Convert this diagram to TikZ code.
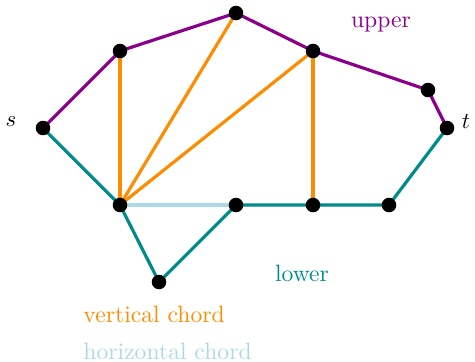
\documentclass[tikz,border=0pt]{standalone}
\usepackage{xcolor}
\definecolor{upc}{RGB}{139,0,139}
\definecolor{loc}{RGB}{0,139,139}
\definecolor{vch}{RGB}{255,140,0}
\definecolor{hch}{RGB}{173,216,230}
\begin{document}
\begin{tikzpicture}[x=0.44pt,y=-0.44pt,
  font=\fontsize{10.4}{12.5}\selectfont,
  vtx/.style={circle,fill=black,inner sep=0pt,minimum size=6.4pt},
  edge/.style={line width=1.4pt},
  upperedge/.style={edge,upc},
  loweredge/.style={edge,loc},
  vchord/.style={edge,vch},
  hchord/.style={edge,hch}]
\useasboundingbox (0,0) rectangle (475,361);
% vertices
\coordinate (s) at (43,128);
\coordinate (a) at (120,51);
\coordinate (b) at (236,13);
\coordinate (c) at (313,51);
\coordinate (d) at (428,90);
\coordinate (t) at (447,128);
\coordinate (e) at (120,205);
\coordinate (f) at (236,205);
\coordinate (g) at (313,205);
\coordinate (h) at (389,205);
\coordinate (i) at (159,282);
% chords
\draw[hchord] (e) -- (f);
\draw[vchord] (a) -- (e);
\draw[vchord] (b) -- (e);
\draw[vchord] (c) -- (e);
\draw[vchord] (c) -- (g);
% upper path
\draw[upperedge] (s) -- (a) -- (b) -- (c) -- (d) -- (t);
% lower path
\draw[loweredge] (s) -- (e) -- (i) -- (f) -- (g) -- (h) -- (t);
\foreach \v in {s,a,b,c,d,t,e,f,g,h,i} \node[vtx] (n\v) at (\v) {};
% labels
\node (ls) at (11,122) {$s$};
\node (lt) at (466,122) {$t$};
\node[text=upc] (lup) at (381,24) {upper};
\node[text=loc] (llo) at (302,273) {lower};
\node[text=vch,anchor=west,inner sep=0pt] (lvc) at (83,314) {vertical chord};
\node[text=hch,anchor=west,inner sep=0pt] (lhc) at (83,351) {horizontal chord};
\end{tikzpicture}
\end{document}
